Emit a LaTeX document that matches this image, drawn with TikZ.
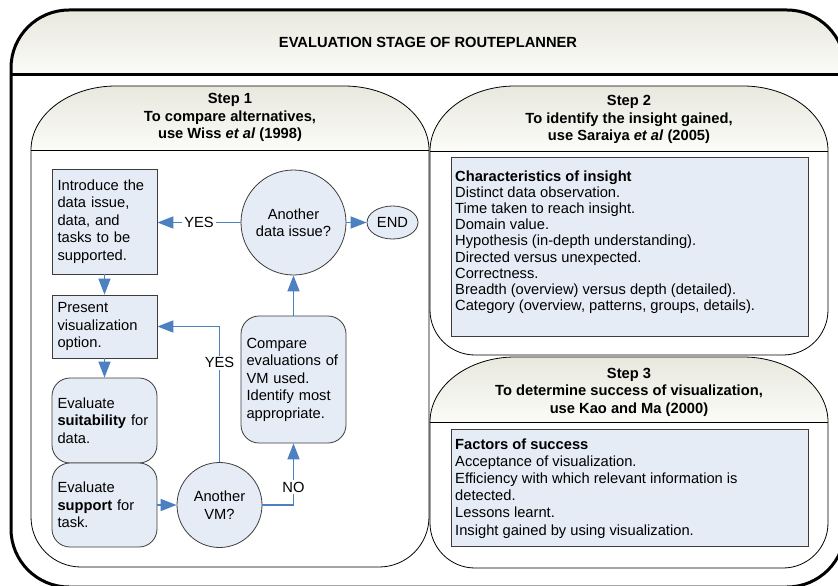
\documentclass[tikz,border=0pt]{standalone}
\usepackage{fontspec}
\setmainfont{Liberation Sans}
\usetikzlibrary{arrows.meta,shapes.geometric}

\definecolor{nodefill}{RGB}{230,236,246}
\definecolor{nodeline}{RGB}{60,60,60}
\definecolor{flowblue}{RGB}{77,128,192}
\definecolor{headtop}{RGB}{232,232,222}
\definecolor{headbot}{RGB}{251,251,248}

\newcommand{\bodysz}{\fontsize{14.7}{17.5}\selectfont}

\tikzset{
  box/.style={draw=nodeline, fill=nodefill, line width=0.8pt, font=\bodysz,
    align=left, inner xsep=5.5pt, inner ysep=0pt, text width=94pt,
    minimum width=105pt},
  roundbox/.style={box, rounded corners=18pt},
  decision/.style={circle, draw=nodeline, fill=nodefill, line width=0.8pt,
    font=\bodysz, align=center, inner sep=0pt},
  terminal/.style={ellipse, draw=nodeline, fill=nodefill, line width=0.8pt,
    font=\bodysz, inner sep=0pt, minimum width=51pt, minimum height=33pt},
  flow/.style={draw=flowblue, line width=1.6pt,
    -{Triangle[length=16pt,width=12pt]}},
  lbl/.style={fill=white, inner sep=2pt, font=\bodysz},
  headtext/.style={font=\bfseries\bodysz, align=center, inner sep=0pt},
  listbox/.style={draw=nodeline, fill=nodefill, line width=0.8pt},
  listtext/.style={align=left, inner sep=0pt},
  stepframe/.style={draw=black, line width=0.8pt},
  headfill/.style={top color=headtop, bottom color=headbot, draw=none},
}

\begin{document}
\begin{tikzpicture}[x=1pt,y=-1pt]
\useasboundingbox (0,0) rectangle (838,586);
\clip (0,0) rectangle (838,586);

% outer frame
\fill[white, rounded corners=58pt] (11,10) rectangle (845,587);
\path[headfill] (11,75) -- (11,68)
  arc[start angle=180, end angle=270, radius=58] -- (787,10)
  arc[start angle=270, end angle=360, radius=58] -- (845,75) -- cycle;
\draw[line width=3pt, rounded corners=58pt] (11,10) rectangle (845,587);
\draw[line width=3pt] (11,75) -- (845,75);
\node[headtext, anchor=base] (title) at (428,47.5) {EVALUATION STAGE OF ROUTEPLANNER};

% step 1 container
\path[headfill] (31,150)
  arc[start angle=180, end angle=270, x radius=85, y radius=64] -- (344,86)
  arc[start angle=270, end angle=360, x radius=85, y radius=64] -- cycle;
\draw[stepframe] (31,150)
  arc[start angle=180, end angle=270, x radius=85, y radius=64] -- (344,86)
  arc[start angle=270, end angle=360, x radius=85, y radius=64] -- (429,517)
  arc[start angle=0, end angle=90, radius=50] -- (81,567)
  arc[start angle=90, end angle=180, radius=50] -- cycle;
\draw[stepframe] (31,150) -- (429,150);
\node[headtext] (s1head) at (230,117.5) {Step 1\\To compare alternatives,\\use Wiss \textit{et al} (1998)};

% step 2 container
\path[headfill] (430,151)
  arc[start angle=180, end angle=270, x radius=85, y radius=65] -- (743,86)
  arc[start angle=270, end angle=360, x radius=85, y radius=65] -- cycle;
\draw[stepframe] (430,151)
  arc[start angle=180, end angle=270, x radius=85, y radius=65] -- (743,86)
  arc[start angle=270, end angle=360, x radius=85, y radius=65] -- (828,310)
  arc[start angle=0, end angle=90, radius=45] -- (475,355)
  arc[start angle=90, end angle=180, radius=45] -- cycle;
\draw[stepframe] (430,151) -- (828,151);
\node[headtext] (s2head) at (629,119.5) {Step 2\\To identify the insight gained,\\use Saraiya \textit{et al} (2005)};

% step 3 container
\path[headfill] (430,422)
  arc[start angle=180, end angle=270, x radius=85, y radius=65] -- (743,357)
  arc[start angle=270, end angle=360, x radius=85, y radius=65] -- cycle;
\draw[stepframe] (430,422)
  arc[start angle=180, end angle=270, x radius=85, y radius=65] -- (743,357)
  arc[start angle=270, end angle=360, x radius=85, y radius=65] -- (828,523)
  arc[start angle=0, end angle=90, radius=45] -- (475,568)
  arc[start angle=90, end angle=180, radius=45] -- cycle;
\draw[stepframe] (430,422) -- (828,422);
\node[headtext] (s3head) at (629,392) {Step 3\\To determine success of visualization,\\use Kao and Ma (2000)};

% step 1 flow
\node[box, minimum height=105pt] (intro) at (104.5,221.5)
  {Introduce the\\data issue,\\data, and\\tasks to be\\supported.};
\node[box, minimum height=63pt] (present) at (104.5,326.5)
  {Present\\visualization\\option.};
\node[roundbox, minimum height=85pt] (suit) at (104.5,420.5)
  {Evaluate\\\textbf{suitability} for\\data.};
\node[roundbox, minimum height=84pt] (supp) at (104.5,505)
  {Evaluate\\\textbf{support} for\\task.};
\node[decision, minimum size=85pt] (vm) at (219.5,505) {Another\\VM?};
\node[roundbox, minimum height=127pt] (compare) at (293.5,379.5)
  {Compare\\evaluations of\\VM used.\\Identify most\\appropriate.};
\node[decision, minimum size=105pt] (dissue) at (293.5,222.5) {Another\\data issue?};
\node[terminal] (finish) at (392.5,222.5) {END};

\draw[flow] (intro) -- (present);
\draw[flow] (present) -- (suit);
\draw[flow] (supp) -- (vm);
\draw[flow] (vm.north) -- node[lbl, pos=0.733] {YES} (vm.north |- present.east) -- (present.east);
\draw[flow] (vm.east) -| node[lbl, pos=0.645] {NO} (compare.south);
\draw[flow] (compare) -- (dissue);
\draw[flow] (dissue) -- (finish);
\draw[flow] (dissue.west) -- node[lbl] {YES} (dissue.west -| intro.east);

% step 2 list
\node[listbox, minimum width=357pt, minimum height=179pt] (insightbox) at (629.5,246.5) {};
\node[listtext, anchor=north west, font=\fontsize{14.7}{16.2}\selectfont] (insight) at (455,170.3)
  {\textbf{Characteristics of insight}\\
   Distinct data observation.\\
   Time taken to reach insight.\\
   Domain value.\\
   Hypothesis (in-depth understanding).\\
   Directed versus unexpected.\\
   Correctness.\\
   Breadth (overview) versus depth (detailed).\\
   Category (overview, patterns, groups, details).};

% step 3 list
\node[listbox, minimum width=357pt, minimum height=117pt] (successbox) at (629.5,487.5) {};
\node[listtext, anchor=north west, font=\fontsize{14.7}{17.2}\selectfont] (success) at (455,438.3)
  {\textbf{Factors of success}\\
   Acceptance of visualization.\\
   Efficiency with which relevant information is\\
   detected.\\
   Lessons learnt.\\
   Insight gained by using visualization.};
\end{tikzpicture}
\end{document}
